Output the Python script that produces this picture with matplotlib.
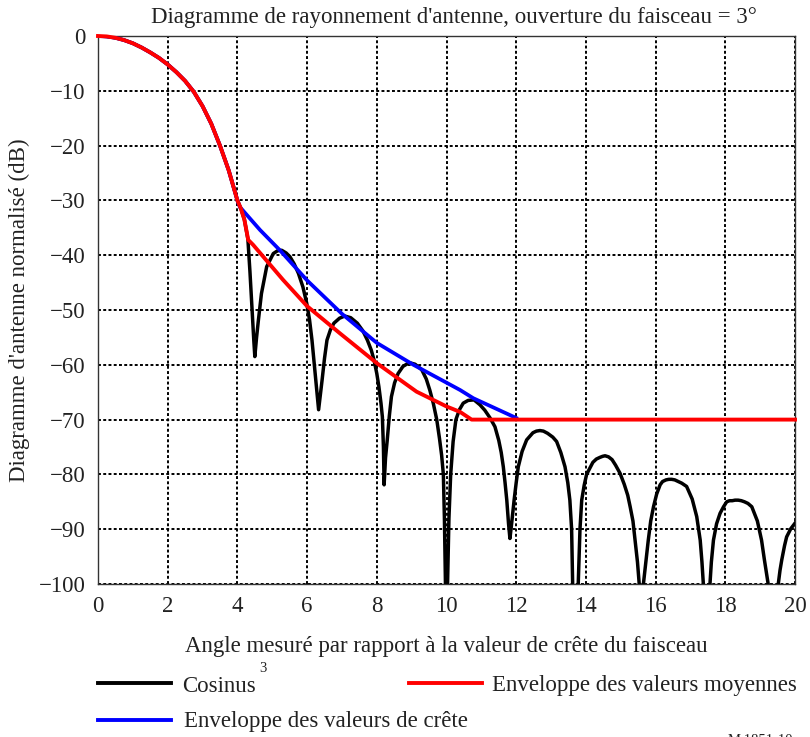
import matplotlib
matplotlib.use("Agg")
import matplotlib.pyplot as plt
from matplotlib.lines import Line2D

plt.rcParams['font.family'] = ['Liberation Serif', 'DejaVu Serif']

# ---- data ----
cos3_x = [0.0, 0.25, 0.5, 0.75, 1.0, 1.25, 1.5, 1.75, 2.0, 2.25, 2.5, 2.75, 3.0, 3.25, 3.5, 3.75, 4.0, 4.1, 4.2, 4.3, 4.36, 4.42, 4.47, 4.5,
          4.55, 4.6, 4.69, 4.84, 5.03, 5.15, 5.27, 5.4, 5.51, 5.63, 5.75, 5.88, 5.99, 6.07, 6.14, 6.23, 6.29, 6.33,
          6.38, 6.43, 6.5, 6.57, 6.67, 6.77, 6.93, 7.08, 7.25, 7.44, 7.6, 7.73, 7.84, 7.92, 8.0, 8.06, 8.12, 8.16, 8.19, 8.21,
          8.25, 8.3, 8.36, 8.42, 8.51, 8.61, 8.75, 8.93, 9.1, 9.29, 9.42, 9.52, 9.62, 9.72, 9.8, 9.86, 9.91, 9.94, 9.97, 10.0,
          10.03, 10.07, 10.12, 10.19, 10.27, 10.37, 10.48, 10.62, 10.79, 10.96, 11.1, 11.25, 11.39, 11.5, 11.57, 11.63, 11.68,
          11.73, 11.78, 11.82, 11.86, 11.9, 11.94, 12.0, 12.06, 12.17, 12.3, 12.48, 12.58, 12.68, 12.78, 12.9, 13.05, 13.16, 13.28, 13.4,
          13.48, 13.54, 13.59, 13.62, 13.7, 13.78, 13.83, 13.88, 13.95, 14.02, 14.2, 14.3, 14.4, 14.48, 14.55, 14.65, 14.75, 14.85, 14.98, 15.1, 15.2,
          15.27, 15.35, 15.41, 15.48, 15.53, 15.59, 15.65, 15.72, 15.79, 15.86, 15.94, 16.03, 16.13, 16.2, 16.3, 16.38, 16.46, 16.55, 16.65, 16.75,
          16.89, 17.05, 17.18, 17.28, 17.33, 17.37, 17.46, 17.56, 17.6, 17.66, 17.75, 17.85, 17.95, 18.04, 18.12, 18.2, 18.28, 18.37, 18.46, 18.55, 18.65,
          18.76, 18.92, 19.04, 19.12, 19.23, 19.37, 19.52, 19.57, 19.62, 19.7, 19.76, 19.88, 20.0]
cos3_y = [0.0, -0.08, -0.33, -0.75, -1.33, -2.1, -3.0, -4.0, -5.2, -6.6, -8.2, -10.2, -12.8, -16.0, -20.0, -24.5, -30.0, -31.5, -33.5, -37.0, -43.0, -50.0, -55.5, -58.5,
          -55.0, -52.0, -47.0, -42.1, -39.7, -39.2, -39.1, -39.6, -40.3, -41.6, -43.3, -45.8, -48.8, -51.8, -55.5, -61.6, -65.5, -68.2,
          -65.5, -62.8, -58.8, -55.5, -53.6, -52.4, -51.5, -51.1, -51.4, -52.4, -53.8, -55.5, -57.3, -59.1, -61.6, -64.0, -67.0, -69.5, -75.0, -81.9,
          -77.0, -73.7, -69.3, -65.8, -63.3, -61.6, -60.3, -59.6, -59.9, -60.9, -62.6, -64.6, -67.0, -70.0, -73.5, -76.5, -80.0, -88.0, -100.0, -115.0,
          -100.0, -88.0, -80.0, -74.0, -70.0, -68.2, -67.0, -66.5, -66.4, -67.3, -68.3, -69.7, -71.3, -73.8, -76.0, -78.6, -81.5,
          -84.7, -89.0, -91.7, -89.5, -87.0, -84.7, -81.5, -78.6, -75.8, -73.7, -72.4, -72.1, -72.0, -72.1, -72.5, -73.2, -74.0, -76.0, -78.6,
          -81.5, -84.7, -90.0, -100.0, -115.0, -100.0, -90.0, -84.7, -82.0, -80.0, -77.8, -77.2, -76.9, -76.7, -76.6, -76.8, -77.3, -78.3, -79.8, -81.8, -83.8,
          -85.9, -88.5, -92.0, -96.0, -100.0, -115.0, -100.0, -96.0, -92.0, -88.5, -85.9, -83.6, -81.9, -81.3, -81.0, -80.9, -80.9, -81.0, -81.3, -81.6,
          -82.2, -84.5, -87.7, -92.0, -96.0, -100.0, -115.0, -100.0, -96.0, -92.0, -89.0, -87.1, -85.9, -85.0, -84.8, -84.8, -84.7, -84.7, -84.8, -85.0, -85.3,
          -85.9, -88.5, -92.0, -95.5, -100.0, -115.0, -100.0, -97.5, -95.6, -93.0, -91.4, -89.9, -88.9]

peak_env_x = [0.0, 0.25, 0.5, 0.75, 1.0, 1.25, 1.5, 1.75, 2.0, 2.25, 2.5, 2.75, 3.0, 3.25, 3.5, 3.75, 4.0, 4.07, 4.65, 5.22,
              6.0, 7.0, 8.0, 9.05, 10.39, 10.77, 12.0]
peak_env_y = [0.0, -0.08, -0.33, -0.75, -1.33, -2.1, -3.0, -4.0, -5.2, -6.6, -8.2, -10.2, -12.8, -16.0, -20.0, -24.5, -30.0, -31.2, -35.4, -39.1,
              -44.6, -50.7, -56.0, -60.0, -64.6, -66.1, -69.7]

mean_env_x = [0.0, 0.25, 0.5, 0.75, 1.0, 1.25, 1.5, 1.75, 2.0, 2.25, 2.5, 2.75, 3.0, 3.25, 3.5, 3.75, 4.0, 4.1, 4.2, 4.31,
              4.45, 5.31, 6.0, 6.95, 8.0, 9.14, 10.0, 10.39, 10.72, 20.0]
mean_env_y = [0.0, -0.08, -0.33, -0.75, -1.33, -2.1, -3.0, -4.0, -5.2, -6.6, -8.2, -10.2, -12.8, -16.0, -20.0, -24.5, -30.0, -31.5, -33.5, -37.2,
              -38.1, -44.5, -49.3, -54.3, -59.7, -64.9, -67.6, -68.6, -70.0, -70.0]

x_ticks = [0, 2, 4, 6, 8, 10, 12, 14, 16, 18, 20]
y_ticks = [0, -10, -20, -30, -40, -50, -60, -70, -80, -90, -100]

title = "Diagramme de rayonnement d'antenne, ouverture du faisceau = 3°"
xlabel = "Angle mesuré par rapport à la valeur de crête du faisceau"
ylabel = "Diagramme d'antenne normalisé (dB)"
legend_labels = ["Cosinus", "Enveloppe des valeurs moyennes", "Enveloppe des valeurs de crête"]

# ---- figure ----
W, H = 810, 737
FS = 16.5
TXT = '#222222'
fig = plt.figure(figsize=(W / 100, H / 100), dpi=100)
ax = fig.add_axes([98 / W, 1 - 584 / H, (795 - 98) / W, (584 - 36) / H])

ax.plot(cos3_x, cos3_y, color='black', lw=2.5, zorder=3)
ax.plot(peak_env_x, peak_env_y, color='#0000ff', lw=2.7, zorder=4)
ax.plot(mean_env_x, mean_env_y, color='#ff0000', lw=2.8, zorder=5, clip_on=False)

ax.set_xlim(0, 20)
ax.set_ylim(-100, 0)
ax.set_xticks(x_ticks)
ax.set_yticks(y_ticks)
ax.tick_params(length=0, labelsize=FS, pad=9, colors=TXT)
ax.grid(True, color='black', linestyle=(0, (1.5, 1.2)), lw=1.4)
for s in ax.spines.values():
    s.set_color('#333333')
    s.set_linewidth(1.0)

ax.set_xlabel(xlabel, fontsize=FS, labelpad=13, color=TXT)
ax.set_ylabel(ylabel, fontsize=FS, labelpad=6, color=TXT)
fig.text(454 / W, 1 - 18 / H, title, fontsize=FS, ha='center', va='center', color=TXT)

# ---- legend (manual layout) ----
def handle(x0, x1, y, color):
    fig.add_artist(Line2D([x0 / W, x1 / W], [1 - y / H, 1 - y / H], color=color, lw=2.8,
                          transform=fig.transFigure))

handle(98, 171, 683, 'black')
fig.text(182 / W, 1 - 686 / H, legend_labels[0], fontsize=FS, ha='left', va='center', color=TXT)
fig.text(259 / W, 1 - 668 / H, "3", fontsize=10.5, ha='left', va='center', color=TXT)
handle(409, 482, 683, '#ff0000')
fig.text(492 / W, 1 - 686 / H, legend_labels[1], fontsize=FS, ha='left', va='center', color=TXT)
handle(98, 171, 720, '#0000ff')
fig.text(184 / W, 1 - 722 / H, legend_labels[2], fontsize=FS, ha='left', va='center', color=TXT)

fig.text(728 / W, 1 - 740 / H, "M.1851-10", fontsize=10.5, ha='left', va='center', color=TXT)

fig.savefig("out.png", dpi=100)
